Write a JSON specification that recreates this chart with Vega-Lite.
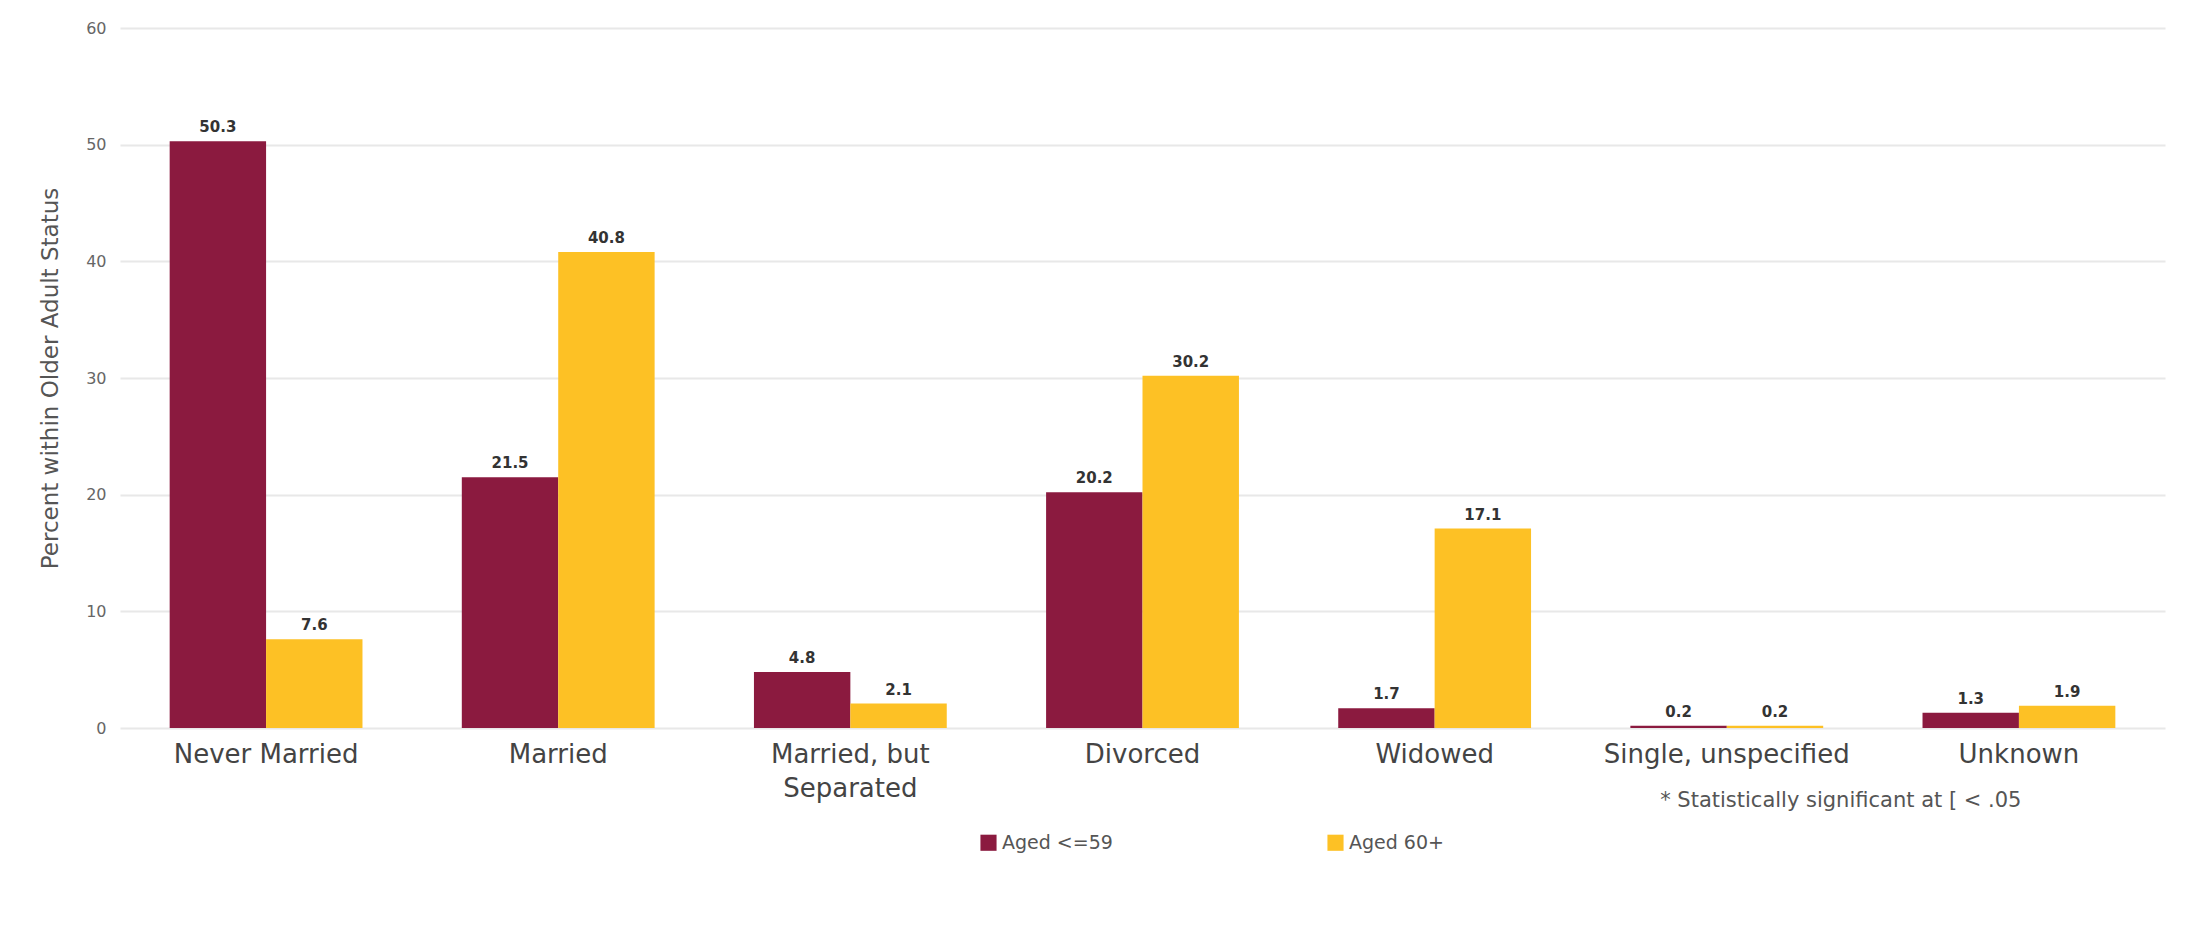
{
  "$schema": "https://vega.github.io/schema/vega-lite/v6.json",
  "width": 2045,
  "height": 700,
  "autosize": {"type": "none"},
  "padding": {"left": 120, "top": 28, "right": 28, "bottom": 197},
  "background": "white",
  "config": {"view": {"stroke": null}, "font": "DejaVu Sans"},
  "data": {
    "values": [
      {"status": "Never Married", "group": "Aged <=59", "value": 50.3},
      {"status": "Never Married", "group": "Aged 60+", "value": 7.6},
      {"status": "Married", "group": "Aged <=59", "value": 21.5},
      {"status": "Married", "group": "Aged 60+", "value": 40.8},
      {"status": "Married, but Separated", "group": "Aged <=59", "value": 4.8},
      {"status": "Married, but Separated", "group": "Aged 60+", "value": 2.1},
      {"status": "Divorced", "group": "Aged <=59", "value": 20.2},
      {"status": "Divorced", "group": "Aged 60+", "value": 30.2},
      {"status": "Widowed", "group": "Aged <=59", "value": 1.7},
      {"status": "Widowed", "group": "Aged 60+", "value": 17.1},
      {"status": "Single, unspecified", "group": "Aged <=59", "value": 0.2},
      {"status": "Single, unspecified", "group": "Aged 60+", "value": 0.2},
      {"status": "Unknown", "group": "Aged <=59", "value": 1.3},
      {"status": "Unknown", "group": "Aged 60+", "value": 1.9}
    ]
  },
  "encoding": {
    "x": {
      "field": "status",
      "type": "nominal",
      "sort": ["Never Married", "Married", "Married, but Separated", "Divorced", "Widowed", "Single, unspecified", "Unknown"],
      "scale": {"paddingInner": 0.34, "paddingOuter": 0.17},
      "axis": {
        "title": null,
        "labelExpr": "datum.label == 'Married, but Separated' ? ['Married, but', 'Separated'] : datum.label",
        "labelFontSize": 26,
        "labelColor": "#444444",
        "labelPadding": 13,
        "labelLineHeight": 34,
        "labelAngle": 0,
        "labelLimit": 500,
        "ticks": false,
        "domain": false,
        "grid": false
      }
    }
  },
  "layer": [
    {
      "mark": {"type": "bar"},
      "encoding": {
        "xOffset": {"field": "group", "type": "nominal", "sort": ["Aged <=59", "Aged 60+"]},
        "y": {
          "field": "value",
          "type": "quantitative",
          "scale": {"domain": [0, 60]},
          "axis": {
            "values": [0, 10, 20, 30, 40, 50, 60],
            "title": "Percent within Older Adult Status",
            "titleFontSize": 23,
            "titleFontWeight": "normal",
            "titleColor": "#555555",
            "titleX": -70,
            "titleY": 350,
            "titleAngle": 270,
            "titleAlign": "center",
            "titleBaseline": "middle",
            "labelFontSize": 16,
            "labelColor": "#666666",
            "labelPadding": 14,
            "domain": false,
            "ticks": false,
            "gridColor": "#e8e8e8",
            "gridWidth": 2
          }
        },
        "color": {
          "field": "group",
          "type": "nominal",
          "sort": ["Aged <=59", "Aged 60+"],
          "scale": {"domain": ["Aged <=59", "Aged 60+"], "range": ["#8B1A3F", "#FDC125"]},
          "legend": {
            "orient": "none",
            "direction": "horizontal",
            "legendX": 859,
            "legendY": 805,
            "title": null,
            "symbolType": "square",
            "symbolSize": 260,
            "symbolStrokeWidth": 0,
            "symbolOpacity": 1,
            "labelFontSize": 19,
            "labelColor": "#555555",
            "columnPadding": 213,
            "padding": 0
          }
        }
      }
    },
    {
      "mark": {"type": "text", "dy": -9, "baseline": "alphabetic", "fontSize": 15, "fontWeight": "bold", "color": "#333333"},
      "encoding": {
        "xOffset": {"field": "group", "type": "nominal", "sort": ["Aged <=59", "Aged 60+"]},
        "y": {"field": "value", "type": "quantitative"},
        "text": {"field": "value", "type": "quantitative", "format": ".1f"}
      }
    },
    {
      "data": {"values": [{"note": "* Statistically significant at [ < .05"}]},
      "mark": {"type": "text", "dx": 114, "dy": 73, "baseline": "middle", "align": "center", "fontSize": 21, "color": "#555555"},
      "encoding": {
        "x": {"datum": "Single, unspecified"},
        "y": {"datum": 0},
        "text": {"field": "note", "type": "nominal"}
      }
    }
  ]
}
